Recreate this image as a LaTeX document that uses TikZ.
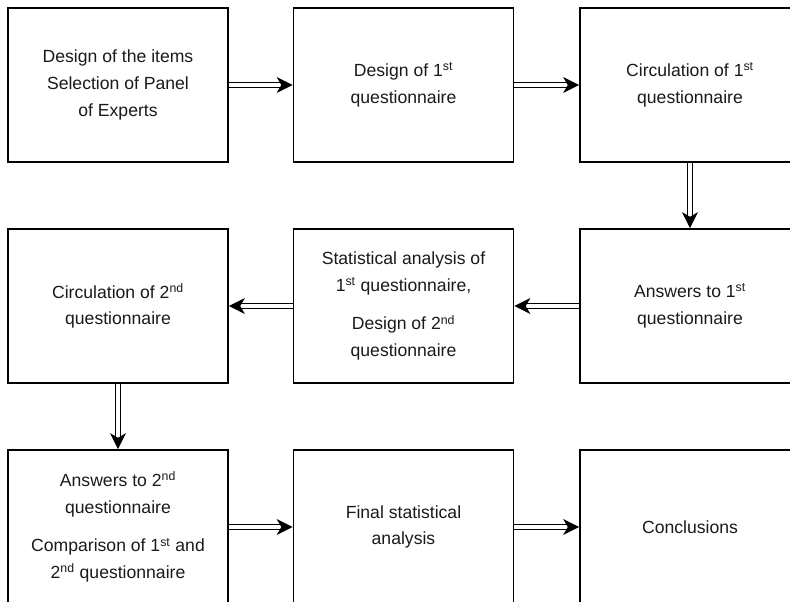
\documentclass[tikz,border=0pt]{standalone}
\usepackage{fontspec}
\setmainfont{Liberation Sans}
\usepackage{xcolor}
\usepackage{tikz}
\usetikzlibrary{arrows.meta,positioning}
\definecolor{FlowInk}{HTML}{000000}
\definecolor{FlowText}{HTML}{1A1A1A}
\newcommand{\Ord}[1]{\textsuperscript{#1}}

\begin{document}
\begin{tikzpicture}[
  x=0.75pt,y=-0.75pt,
  font=\fontsize{13.2}{20}\selectfont,
  text=FlowText,
  stage/.style={draw=FlowInk,line width=1.3pt,fill=white,align=center,
                minimum width=165pt,minimum height=115.5pt,inner sep=0pt},
  flow/.style={draw=FlowInk,double,double distance=2.3pt,line width=0.8pt,
               -{Stealth[length=12pt,width=12pt,inset=3.5pt]}},
]
  \useasboundingbox (0,0) rectangle (790,601);
  \clip (0,0) rectangle (790,601);

  \node[stage] (items) at (118,85)
    {Design of the items\\Selection of Panel\\of Experts};
  \node[stage] (design1) at (403.5,85)
    {Design of 1\Ord{st}\\questionnaire};
  \node[stage] (circ1) at (690,85)
    {Circulation of 1\Ord{st}\\questionnaire};

  \node[stage] (answers1) at (690,306)
    {Answers to 1\Ord{st}\\questionnaire};
  \node[stage] (stats1) at (403.5,306)
    {Statistical analysis of\\1\Ord{st} questionnaire,\\[9pt]Design of 2\Ord{nd}\\questionnaire};
  \node[stage] (circ2) at (118,306)
    {Circulation of 2\Ord{nd}\\questionnaire};

  \node[stage] (answers2) at (118,527)
    {Answers to 2\Ord{nd}\\questionnaire\\[9pt]Comparison of 1\Ord{st} and\\2\Ord{nd} questionnaire};
  \node[stage] (final) at (403.5,527)
    {Final statistical\\analysis};
  \node[stage] (concl) at (690,527)
    {Conclusions};

  \draw[flow] (items) -- (design1);
  \draw[flow] (design1) -- (circ1);
  \draw[flow] (circ1) -- (answers1);
  \draw[flow] (answers1) -- (stats1);
  \draw[flow] (stats1) -- (circ2);
  \draw[flow] (circ2) -- (answers2);
  \draw[flow] (answers2) -- (final);
  \draw[flow] (final) -- (concl);
\end{tikzpicture}
\end{document}
